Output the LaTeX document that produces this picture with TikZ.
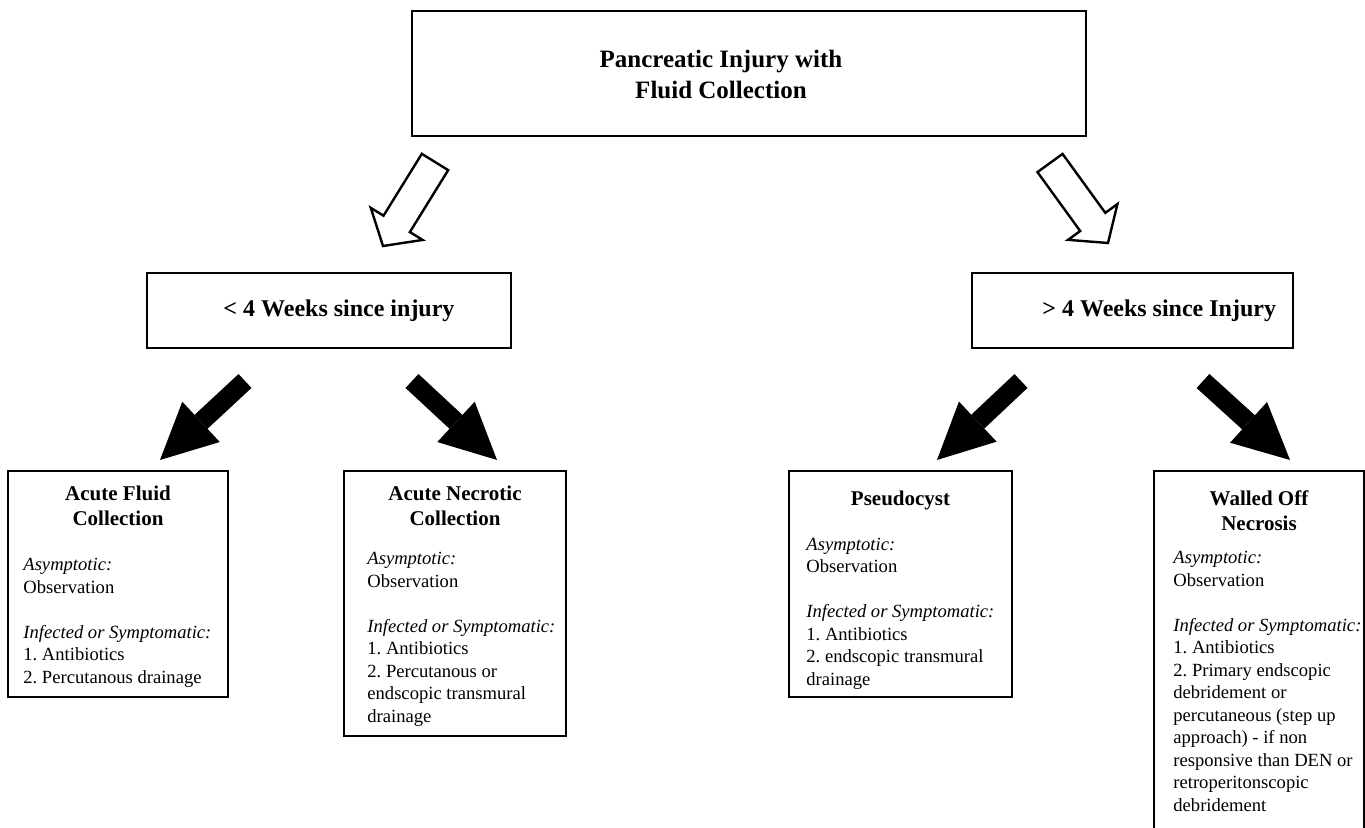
\documentclass[tikz,border=0pt]{standalone}
\usepackage{fontspec}
\setmainfont{Liberation Serif}
\frenchspacing
\usetikzlibrary{arrows.meta,positioning,calc}
\tikzset{
frame/.style={draw,line width=1pt,inner sep=0pt,anchor=north west},
toptitle/.style={align=center,inner sep=0pt,font=\fontsize{12.5}{15.5}\selectfont\bfseries},
phase/.style={inner sep=0pt,font=\fontsize{12}{14}\selectfont\bfseries},
cardhead/.style={align=center,inner sep=0pt,font=\fontsize{10.5}{12.5}\selectfont\bfseries},
cardbody/.style={align=left,inner sep=0pt,font=\fontsize{9.3}{11.25}\selectfont},
hollowarrow/.style={draw,line width=1.2pt,fill=white,line join=miter},
solidarrow/.style={line width=9.5pt,-{Triangle[width=27.5pt,length=28pt,line width=0pt]}}
}
\begin{document}
\begin{tikzpicture}[x=0.5pt,y=-0.5pt]
\useasboundingbox (0,0) rectangle (1365,828);
\clip (0,0) rectangle (1365,828);

% top
\node[frame,minimum width=337pt,minimum height=62.5pt] (injury) at (411,10) {};
\node[toptitle,anchor=north] (injurytext) at (721,45.3) {\strut Pancreatic Injury with\\Fluid Collection};

% time since injury
\node[frame,minimum width=182pt,minimum height=37.5pt] (early) at (146,272) {};
\node[phase,anchor=base] (earlytext) at (339,317) {< 4 Weeks since injury};
\node[frame,minimum width=160.5pt,minimum height=37.5pt] (late) at (971,272) {};
\node[phase,anchor=base west] (latetext) at (1042,317) {> 4 Weeks since Injury};

% collections
\node[frame,minimum width=110pt,minimum height=113pt] (afc) at (7,470) {};
\node[cardhead,below=6.25pt of afc.north] (afchead) {\strut Acute Fluid\\Collection};
\node[cardbody,below right=42.4pt and 8pt of afc.north west] (afcbody) {\strut\textit{Asymptotic:}\\Observation\\[11.25pt]\textit{Infected or Symptomatic:}\\1. Antibiotics\\2. Percutanous drainage};

\node[frame,minimum width=111pt,minimum height=132.5pt] (anc) at (343,470) {};
\node[cardhead,below=6.25pt of anc.north] (anchead) {\strut Acute Necrotic\\Collection};
\node[cardbody,below right=39.4pt and 12pt of anc.north west] (ancbody) {\strut\textit{Asymptotic:}\\Observation\\[11.25pt]\textit{Infected or Symptomatic:}\\1. Antibiotics\\2. Percutanous or\\endscopic transmural\\drainage};

\node[frame,minimum width=111.5pt,minimum height=113pt] (pseudo) at (788,470) {};
\node[cardhead,below=8.75pt of pseudo.north] (pseudohead) {\strut Pseudocyst};
\node[cardbody,below right=32.1pt and 9pt of pseudo.north west] (pseudobody) {\strut\textit{Asymptotic:}\\Observation\\[11.25pt]\textit{Infected or Symptomatic:}\\1. Antibiotics\\2. endscopic transmural\\drainage};

\node[frame,minimum width=105pt,minimum height=190pt] (won) at (1153,470) {};
\node[cardhead,below=8.75pt of won.north] (wonhead) {\strut Walled Off\\Necrosis};
\node[cardbody,below right=38.9pt and 10pt of won.north west] (wonbody) {\strut\textit{Asymptotic:}\\Observation\\[11.25pt]\textit{Infected or Symptomatic:}\\1. Antibiotics\\2. Primary endscopic\\debridement or\\percutaneous (step up\\approach) - if non\\responsive than DEN or\\retroperitonscopic\\debridement};

% arrows
\coordinate (openL1) at (435,162);
\coordinate (openL2) at (383,246);
\coordinate (openR1) at (1050,163);
\coordinate (openR2) at (1108,243);
\foreach \s/\t in {openL1/openL2,openR1/openR2}{
  \coordinate (\s-h) at ($(\t)!13pt!(\s)$);
  \draw[hollowarrow] ($(\s)!7.75pt!90:(\t)$) -- ($(\s-h)!7.75pt!90:(\t)$) -- ($(\s-h)!15.25pt!90:(\t)$) -- (\t)
    -- ($(\s-h)!15.25pt!-90:(\t)$) -- ($(\s-h)!7.75pt!-90:(\t)$) -- ($(\s)!7.75pt!-90:(\t)$) -- cycle;
}

\coordinate (afcfrom) at (245,381);
\coordinate (afcto) at (160,460);
\coordinate (ancfrom) at (412,381);
\coordinate (ancto) at (497,460);
\coordinate (pseudofrom) at (1021,381);
\coordinate (pseudoto) at (937,460);
\coordinate (wonfrom) at (1203,381);
\coordinate (wonto) at (1290,460);
\foreach \a/\b in {afcfrom/afcto,ancfrom/ancto,pseudofrom/pseudoto,wonfrom/wonto}
  \draw[solidarrow] (\a) -- (\b);
\end{tikzpicture}
\end{document}
